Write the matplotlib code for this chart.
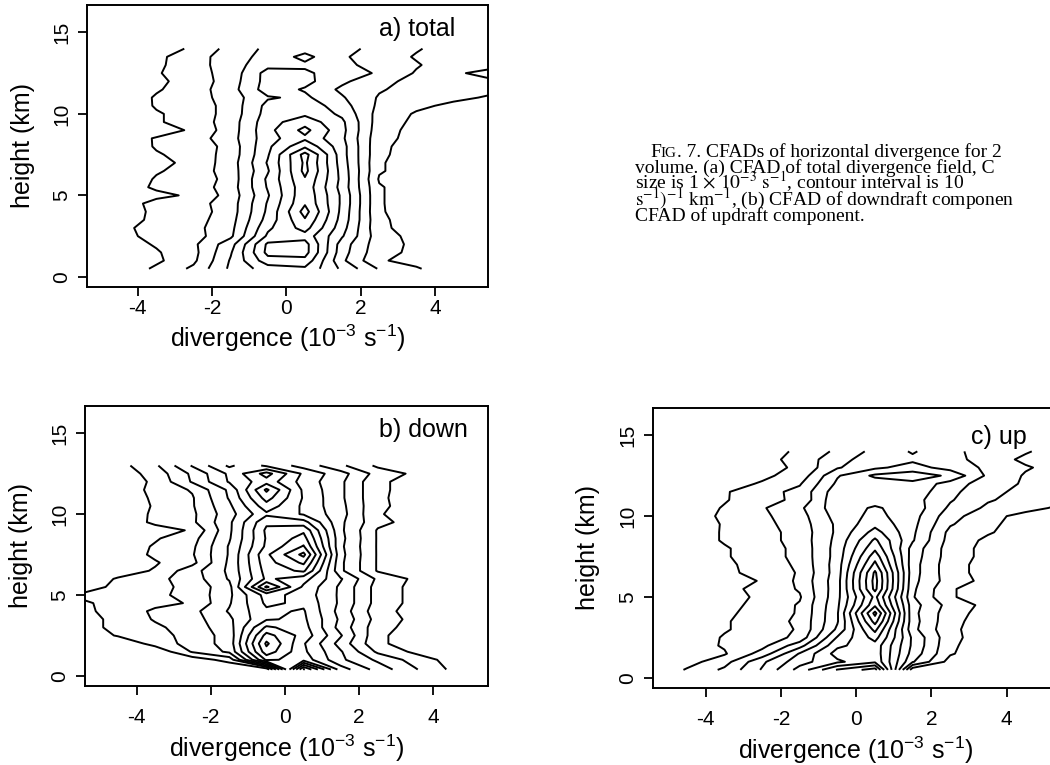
"""CFADs of horizontal divergence: total, downdraft and updraft components"""
import numpy as np
import matplotlib.pyplot as plt

plt.rcParams['font.family'] = ['Liberation Sans', 'DejaVu Sans']
plt.rcParams['mathtext.fontset'] = 'custom'
plt.rcParams['mathtext.rm'] = 'Liberation Sans'
plt.rcParams['mathtext.it'] = 'Liberation Sans:italic'
plt.rcParams['mathtext.bf'] = 'Liberation Sans:bold'
plt.rcParams['axes.unicode_minus'] = False

# divergence bin centres (10^-3 s^-1)
div_bins = [-5.5, -4.5, -3.5, -2.5, -1.5, -0.5, 0.5, 1.5, 2.5, 3.5, 4.5, 5.5]

heights_total = [0.5, 1.0, 1.5, 2.0, 2.5, 3.0, 3.5, 4.0, 4.5, 5.0, 5.5, 6.0, 6.5, 7.0,
                 7.5, 8.0, 8.5, 9.0, 9.5, 10.0, 10.5, 11.0, 11.5, 12.0, 12.5, 13.0, 13.5, 14.0]
heights_down = [0.4, 1.0, 1.5, 2.0, 2.5, 3.0, 3.5, 4.0, 4.5, 5.0, 5.5, 6.0, 6.5, 7.0,
                7.5, 8.0, 8.5, 9.0, 9.5, 10.0, 10.5, 11.0, 11.5, 12.0, 12.5, 13.0]
heights_up = heights_total

# frequency per bin (one row per height, one column per divergence bin)
cfad_total = [
    [0, 2, 12, 22, 42, 55, 58, 38, 19, 11, 4, 1],
    [0, 4, 8, 18, 41, 66, 67, 32, 11, 7, 3, 1],
    [0, 3, 9, 17, 39, 73, 74, 34, 13, 8, 3, 1],
    [0, 5, 11, 18, 36, 72, 74, 35, 14, 8, 3, 1],
    [1, 7, 13, 16, 28, 62, 66, 41, 14, 7, 3, 1],
    [1, 8, 13, 17, 27, 58, 74, 44, 12, 6, 2, 0],
    [0, 6, 12, 16, 26, 54, 79, 46, 12, 5, 2, 0],
    [0, 5, 12, 15, 25, 52, 84, 47, 11, 5, 2, 0],
    [0, 3, 14, 16, 25, 51, 79, 48, 11, 4, 1, 0],
    [0, 2, 7, 12, 24, 49, 78, 48, 11, 4, 1, 0],
    [0, 3, 12, 14, 25, 51, 77, 46, 11, 4, 1, 0],
    [0, 2, 11, 13, 24, 52, 79, 47, 9, 5, 1, 0],
    [0, 1, 9, 14, 25, 49, 83, 46, 11, 5, 1, 0],
    [0, 1, 7, 13, 25, 51, 82, 45, 11, 5, 1, 0],
    [0, 2, 9, 14, 24, 49, 84, 44, 12, 5, 2, 0],
    [0, 2, 11, 13, 24, 48, 68, 44, 12, 6, 2, 0],
    [0, 3, 11, 15, 26, 46, 58, 42, 13, 7, 2, 0],
    [0, 1, 4, 12, 25, 47, 63, 43, 14, 7, 3, 0],
    [0, 2, 9, 14, 25, 46, 56, 42, 15, 8, 3, 0],
    [0, 2, 9, 14, 24, 44, 48, 38, 16, 9, 4, 1],
    [0, 2, 11, 14, 24, 43, 47, 34, 18, 12, 8, 3],
    [0, 3, 11, 15, 25, 39, 42, 31, 19, 14, 12, 9],
    [0, 2, 9, 15, 26, 45, 39, 28, 21, 16, 13, 12],
    [0, 1, 8, 14, 25, 44, 43, 32, 23, 17, 13, 11],
    [0, 2, 9, 16, 24, 44, 42, 34, 29, 19, 11, 8],
    [0, 1, 8, 16, 25, 37, 38, 32, 27, 21, 14, 12],
    [0, 1, 8, 15, 26, 33, 43, 31, 26, 19, 14, 12],
    [0, 1, 7, 11, 24, 32, 36, 33, 27, 21, 15, 12],
]

cfad_down = [
    [0, 0, 0, 0, 0, 2, 112, 55, 36, 21, 8, 0],
    [0, 0, 1, 4, 14, 72, 66, 42, 28, 16, 6, 0],
    [0, 0, 2, 21, 32, 86, 62, 41, 18, 8, 3, 0],
    [0, 1, 14, 24, 34, 92, 61, 36, 12, 5, 2, 0],
    [2, 11, 16, 24, 34, 84, 66, 41, 12, 5, 2, 0],
    [7, 12, 18, 25, 36, 72, 64, 36, 14, 6, 2, 0],
    [7, 12, 21, 26, 38, 59, 62, 38, 16, 7, 3, 0],
    [8, 13, 22, 27, 41, 58, 61, 36, 14, 6, 2, 0],
    [9, 12, 17, 21, 39, 62, 58, 38, 16, 7, 3, 0],
    [11, 13, 18, 23, 38, 64, 56, 38, 16, 7, 3, 0],
    [6, 12, 17, 23, 37, 92, 58, 38, 16, 7, 3, 0],
    [3, 11, 17, 25, 41, 72, 64, 41, 18, 8, 3, 0],
    [1, 5, 11, 26, 42, 74, 82, 32, 9, 4, 1, 0],
    [0, 4, 9, 17, 42, 76, 92, 32, 9, 4, 1, 0],
    [0, 3, 12, 19, 41, 78, 103, 33, 9, 4, 1, 0],
    [0, 4, 11, 18, 41, 72, 91, 32, 9, 4, 1, 0],
    [0, 3, 9, 16, 39, 71, 84, 33, 9, 4, 1, 0],
    [0, 2, 6, 11, 38, 72, 78, 32, 9, 4, 1, 0],
    [0, 3, 12, 18, 38, 68, 64, 32, 13, 6, 2, 0],
    [0, 2, 12, 18, 36, 58, 49, 34, 11, 5, 2, 0],
    [0, 3, 11, 19, 38, 66, 48, 33, 12, 6, 2, 0],
    [0, 2, 12, 19, 41, 74, 49, 32, 12, 5, 2, 0],
    [0, 3, 13, 21, 42, 82, 48, 32, 12, 6, 2, 0],
    [0, 3, 12, 31, 51, 66, 46, 32, 12, 6, 2, 0],
    [0, 4, 14, 32, 52, 74, 48, 34, 16, 8, 3, 0],
    [0, 6, 18, 41, 62, 48, 36, 22, 8, 3, 1, 0],
]

cfad_up = [
    [0, 11, 22, 41, 64, 91, 105, 3, 0, 0, 0, 0],
    [0, 6, 16, 38, 56, 68, 78, 31, 6, 1, 0, 0],
    [0, 4, 9, 24, 51, 74, 76, 36, 11, 3, 0, 0],
    [0, 5, 11, 17, 36, 68, 76, 38, 12, 3, 0, 0],
    [0, 3, 11, 14, 23, 61, 84, 38, 13, 4, 1, 0],
    [0, 2, 9, 15, 21, 52, 93, 33, 12, 5, 1, 0],
    [0, 3, 9, 15, 22, 49, 104, 34, 13, 5, 1, 0],
    [0, 2, 8, 14, 21, 49, 113, 33, 14, 6, 2, 0],
    [0, 3, 7, 13, 21, 48, 98, 34, 16, 7, 2, 0],
    [0, 2, 6, 12, 19, 47, 93, 31, 11, 5, 1, 0],
    [0, 3, 7, 13, 21, 46, 103, 32, 11, 5, 1, 0],
    [0, 1, 4, 11, 22, 46, 104, 33, 15, 7, 2, 0],
    [0, 2, 8, 13, 21, 45, 102, 34, 14, 6, 2, 0],
    [0, 2, 8, 14, 22, 45, 93, 34, 14, 6, 2, 0],
    [0, 3, 9, 15, 23, 44, 86, 35, 15, 7, 3, 0],
    [0, 3, 9, 15, 23, 44, 78, 36, 15, 7, 3, 0],
    [0, 4, 11, 16, 24, 43, 72, 41, 16, 8, 3, 0],
    [0, 4, 11, 16, 24, 42, 64, 42, 17, 11, 5, 1],
    [0, 3, 11, 17, 25, 42, 57, 43, 21, 12, 6, 2],
    [0, 4, 12, 18, 26, 44, 53, 44, 24, 13, 7, 3],
    [0, 3, 11, 19, 28, 46, 51, 46, 28, 18, 13, 8],
    [0, 3, 9, 17, 22, 48, 47, 44, 31, 21, 16, 12],
    [0, 3, 9, 16, 23, 46, 45, 46, 33, 22, 18, 13],
    [0, 2, 6, 11, 19, 42, 44, 47, 36, 24, 19, 14],
    [0, 1, 4, 8, 14, 39, 52, 56, 48, 28, 19, 15],
    [0, 1, 4, 6, 12, 29, 38, 44, 36, 28, 21, 16],
    [0, 1, 3, 6, 14, 26, 36, 38, 34, 25, 18, 14],
    [0, 1, 3, 5, 12, 22, 33, 41, 33, 25, 21, 15],
]

levels = [10, 20, 30, 40, 50, 60, 70, 80, 90, 100, 110]
x_ticks = [-4, -2, 0, 2, 4]
y_ticks = [0, 5, 10, 15]
xlabel = r'divergence (10$^{-3}$ s$^{-1}$)'

W, H = 1050, 765
fig = plt.figure(figsize=(10.5, 7.65), dpi=100)


def px_axes(x0, y0, x1, y1):
    return fig.add_axes([x0 / W, 1 - y1 / H, (x1 - x0) / W, (y1 - y0) / H])


def draw_panel(ax, heights, grid, title, title_x, title_y, xlim, xpad, xl_y, yl_x):
    ax.contour(div_bins, heights, np.array(grid, dtype=float), levels=levels,
               colors='black', linewidths=1.4, linestyles='solid')
    ax.set_xlim(*xlim)
    ax.set_ylim(-0.62, 16.68)
    ax.set_xticks(x_ticks)
    ax.set_yticks(y_ticks)
    for s in ax.spines.values():
        s.set_linewidth(1.4)
    ax.tick_params(direction='out', length=6.5, width=1.3, labelsize=15)
    ax.tick_params(axis='x', pad=xpad)
    ax.tick_params(axis='y', pad=5, labelrotation=90)
    for lab in ax.get_yticklabels():
        lab.set_va('center')
    ax.set_xlabel(xlabel, fontsize=18)
    ax.set_ylabel('height (km)', fontsize=18)
    ax.xaxis.set_label_coords(0.5, xl_y)
    ax.yaxis.set_label_coords(yl_x, 0.5)
    ax.text(title_x, title_y, title, fontsize=18, ha='right', va='center')


ax_a = px_axes(87, 5, 488, 287)
draw_panel(ax_a, heights_total, cfad_total, 'a) total', 4.54, 15.2,
           (-5.37, 5.43), 2, -0.125, -0.13)

ax_b = px_axes(85, 406, 488, 686)
draw_panel(ax_b, heights_down, cfad_down, 'b) down', 4.92, 15.2,
           (-5.39, 5.47), 9, -0.165, -0.13)

ax_c = px_axes(653, 408, 1059, 688)
draw_panel(ax_c, heights_up, cfad_up, 'c) up', 4.53, 14.9,
           (-5.40, 5.39), 9, -0.168, -0.13)

# caption (cut by the right page edge as in the scan)
serif = ['Liberation Serif', 'DejaVu Serif']
cap_size = 14
fig.canvas.draw()
rend = fig.canvas.get_renderer()
t = fig.text(650 / W, 1 - 157 / H, 'F', fontsize=cap_size, family=serif, va='baseline')
x_next = t.get_window_extent(rend).x1
t = fig.text(x_next / W, 1 - 157 / H, 'IG', fontsize=cap_size * 0.78, family=serif,
             va='baseline')
x_next = t.get_window_extent(rend).x1
fig.text(x_next / W, 1 - 157 / H, '. 7. CFADs of horizontal divergence for 2',
         fontsize=cap_size, family=serif, va='baseline')

caption_lines = [
    'volume. (a) CFAD of total divergence field, C',
    r'size is 1 $\times$ $10^{-3}$ $\mathrm{s}^{-1}$, contour interval is 10',
    r'$\mathrm{s}^{-1})^{-1}$ $\mathrm{km}^{-1}$, (b) CFAD of downdraft componen',
    'CFAD of updraft component.',
]
caption_y = [173, 189, 205, 221]
for line, yb in zip(caption_lines, caption_y):
    fig.text(635 / W, 1 - yb / H, line, fontsize=cap_size, family=serif,
             va='baseline', math_fontfamily='stix')

fig.savefig('out.png', dpi=100)
